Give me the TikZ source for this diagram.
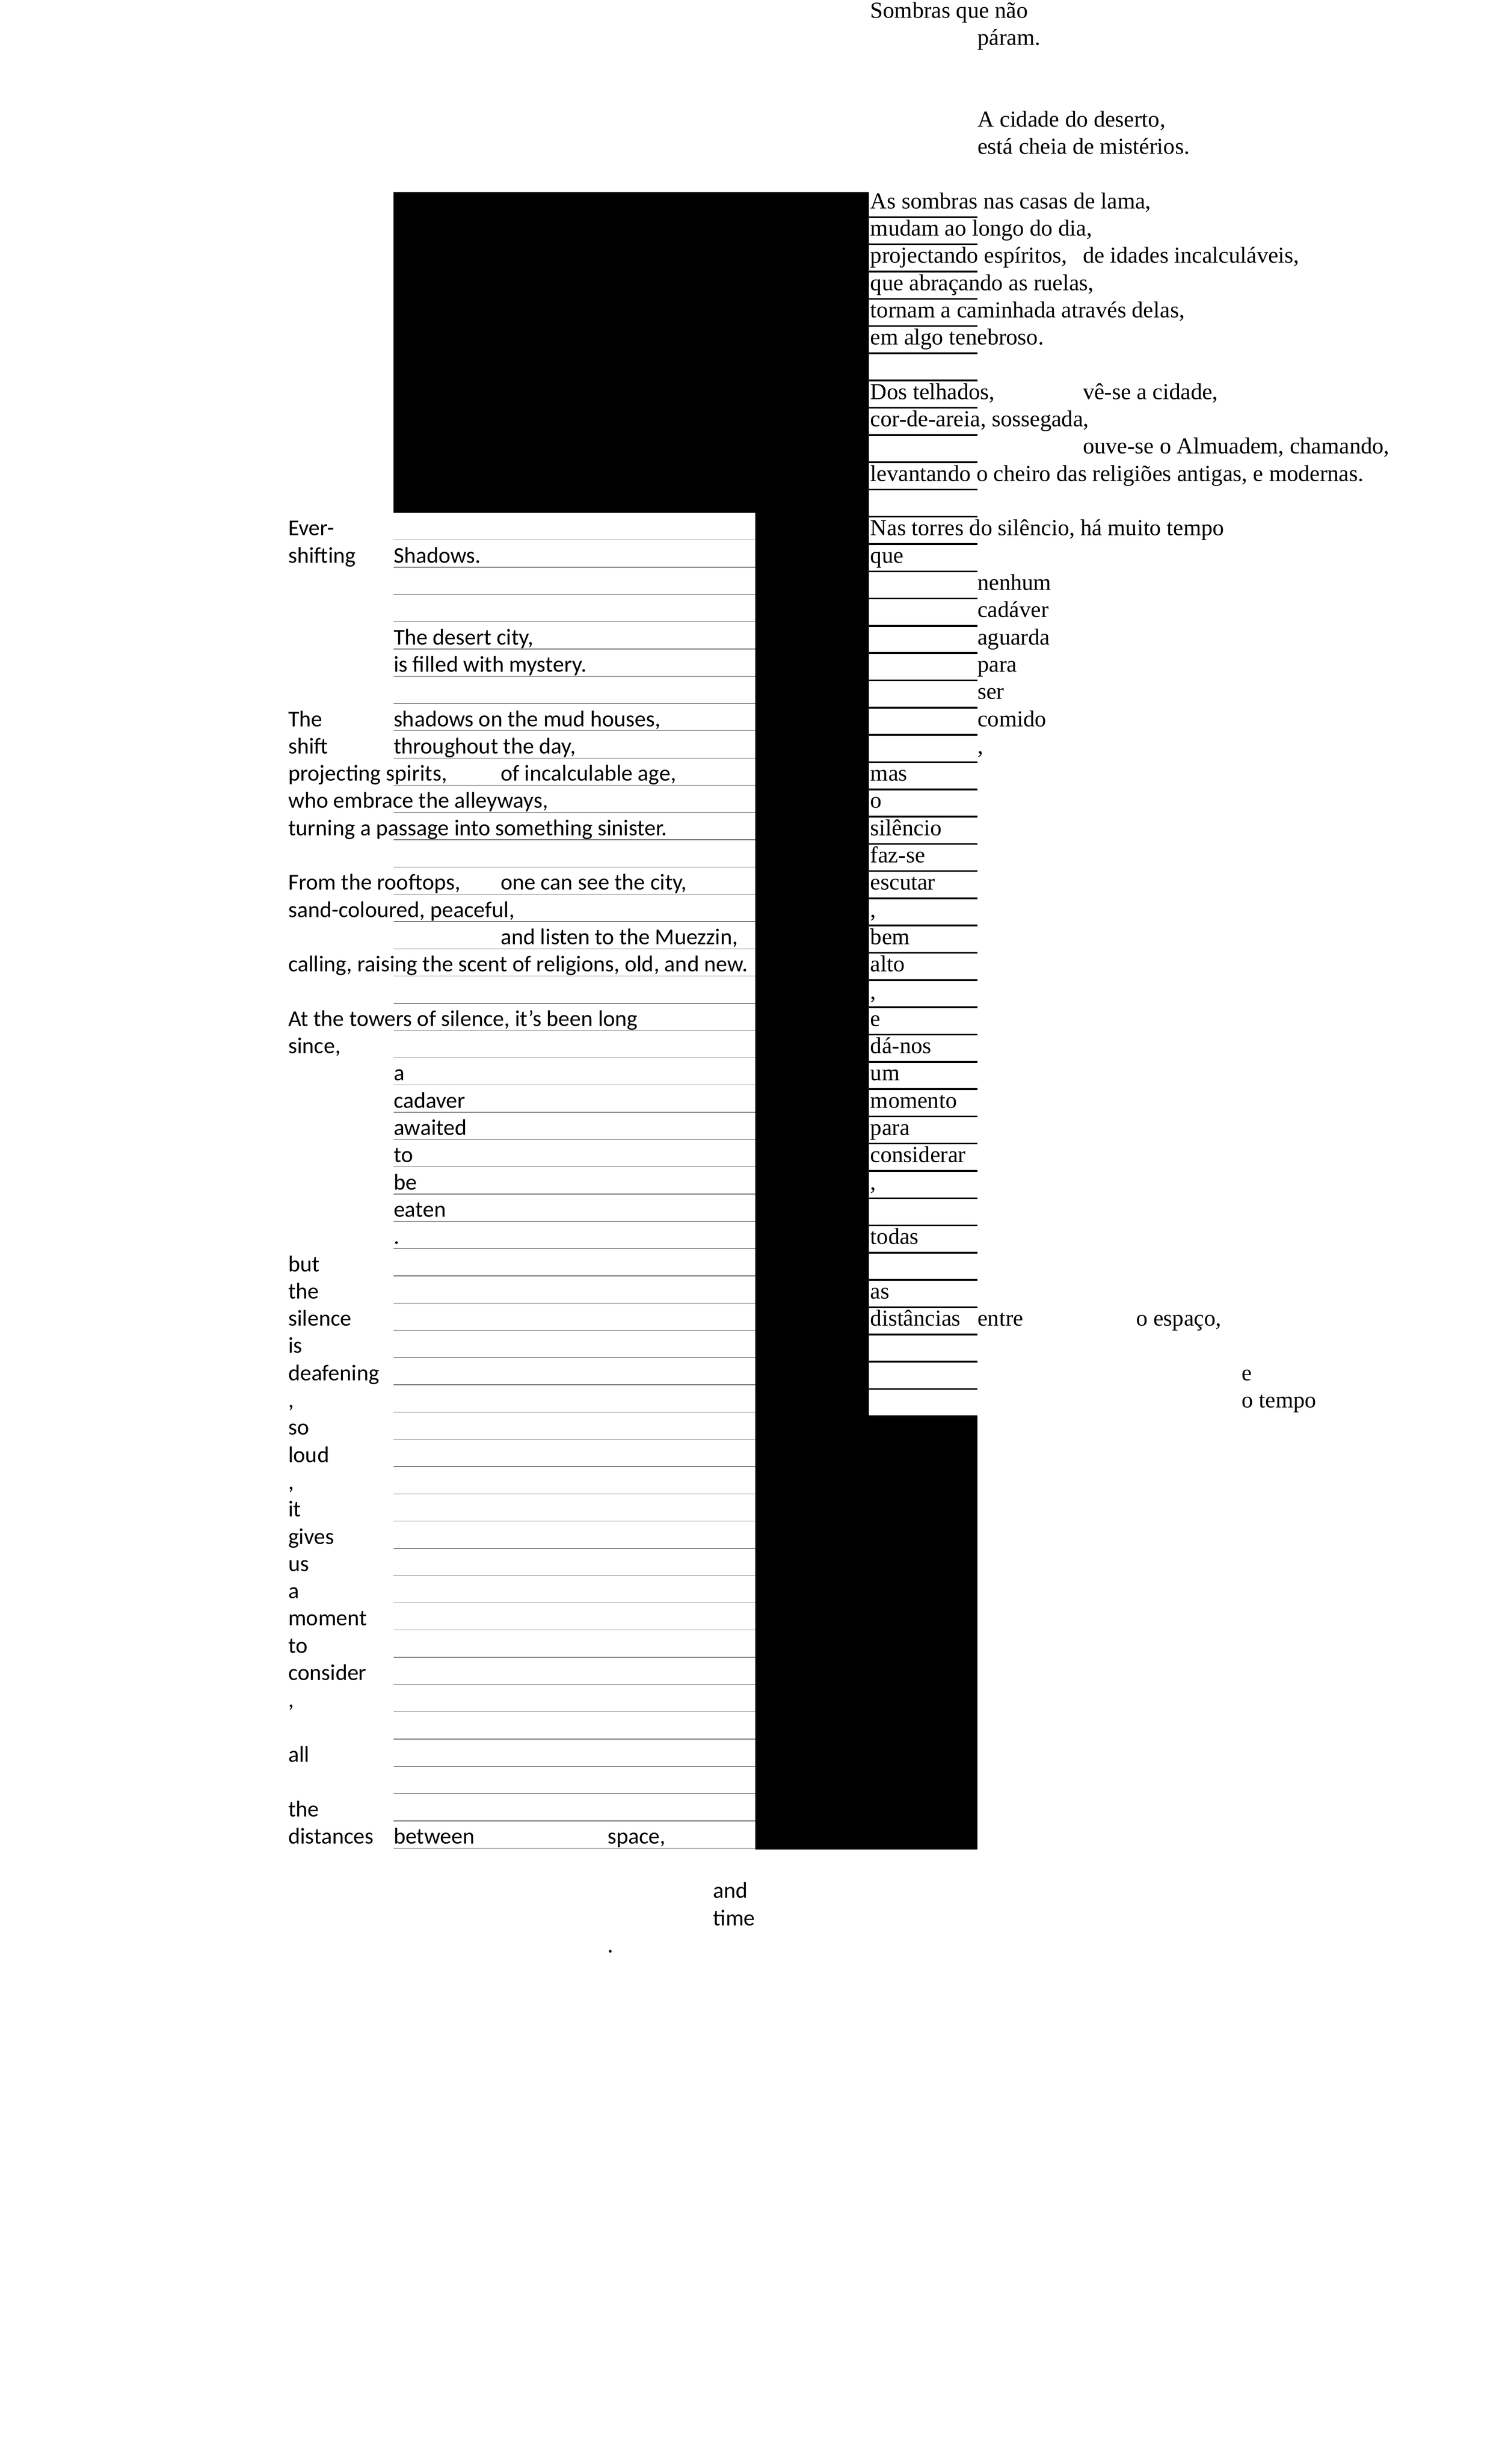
\documentclass[tikz,border=0pt]{standalone}
\usepackage{fontspec}
\setmainfont{Liberation Serif}
\newfontfamily\ensans{Carlito}

\begin{document}
\begin{tikzpicture}[x=0.1mm,y=-7.708mm,
  pt/.style={anchor=base west,inner sep=0pt,font=\fontsize{18.4}{22}\selectfont},
  en/.style={anchor=base west,inner sep=0pt,font=\ensans\fontsize{18.2}{22}\selectfont},
  rule/.style={line width=1.4pt},
  guide/.style={black!55,line width=0.5pt}]
  \useasboundingbox (0,-7.654) rectangle (4274,82.76);

  \foreach \r in {11,...,60}
    \draw[guide] (1113,\r+0.16) -- (2137,\r+0.16);
  \fill (1113,-0.61) -- (2458,-0.61) -- (2458,44.28) -- (2765,44.28)
    -- (2765,60.21) -- (2137,60.21) -- (2137,11.16) -- (1113,11.16) -- cycle;
  \foreach \r in {0,...,43}
    \draw[rule] (2458,\r+0.31) -- (2765,\r+0.31);

  % portuguese
  \node[pt] (title) at (2462,-7) {Sombras que não};
  \node[pt] (title2) at (2765,-6) {páram.};
  \node[pt] (cidade) at (2765,-3) {A cidade do deserto,};
  \node[pt] (cheia) at (2765,-2) {está cheia de mistérios.};
  \node[pt] (sombras) at (2462,0) {As sombras nas casas de lama,};
  \node[pt] (mudam) at (2462,1) {mudam ao longo do dia,};
  \node[pt] (espiritos) at (2462,2) {projectando espíritos,};
  \node[pt] (idades) at (3063,2) {de idades incalculáveis,};
  \node[pt] (ruelas) at (2462,3) {que abraçando as ruelas,};
  \node[pt] (caminhada) at (2462,4) {tornam a caminhada através delas,};
  \node[pt] (tenebroso) at (2462,5) {em algo tenebroso.};
  \node[pt] (telhados) at (2462,7) {Dos telhados,};
  \node[pt] (vese) at (3063,7) {vê-se a cidade,};
  \node[pt] (areia) at (2462,8) {cor-de-areia, sossegada,};
  \node[pt] (almuadem) at (3063,9) {ouve-se o Almuadem, chamando,};
  \node[pt] (religioes) at (2462,10) {levantando o cheiro das religiões antigas, e modernas.};
  \node[pt] (torres) at (2462,12) {Nas torres do silêncio, há muito tempo};
  \node[pt] (que) at (2462,13) {que};
  \foreach \w [count=\i from 14] in {nenhum,cadáver,aguarda,para,ser,comido,{,}}
    \node[pt] (pw\i) at (2765,\i) {\w};
  \foreach \w [count=\i from 21] in {mas,o,silêncio,faz-se,escutar,{,},bem,alto,{,},e,dá-nos,um,momento,para,considerar,{,}}
    \node[pt] (pw\i) at (2462,\i) {\w};
  \node[pt] (todas) at (2462,38) {todas};
  \node[pt] (as) at (2462,40) {as};
  \node[pt] (distancias) at (2462,41) {distâncias};
  \node[pt] (entre) at (2765,41) {entre};
  \node[pt] (espaco) at (3214,41) {o espaço,};
  \node[pt] (e) at (3513,43) {e};
  \node[pt] (tempo) at (3513,44) {o tempo};

  % english
  \node[en] (ever) at (815,12) {Ever-};
  \node[en] (shifting) at (815,13) {shifting};
  \node[en] (shadows) at (1113,13) {Shadows.};
  \node[en] (desert) at (1113,16) {The desert city,};
  \node[en] (mystery) at (1113,17) {is filled with mystery.};
  \node[en] (the) at (815,19) {The};
  \node[en] (mud) at (1113,19) {shadows on the mud houses,};
  \node[en] (shift) at (815,20) {shift};
  \node[en] (day) at (1113,20) {throughout the day,};
  \node[en] (spirits) at (815,21) {projecting spirits,};
  \node[en] (age) at (1416,21) {of incalculable age,};
  \node[en] (alleys) at (815,22) {who embrace the alleyways,};
  \node[en] (sinister) at (815,23) {turning a passage into something sinister.};
  \node[en] (rooftops) at (815,25) {From the rooftops,};
  \node[en] (see) at (1416,25) {one can see the city,};
  \node[en] (sand) at (815,26) {sand-coloured, peaceful,};
  \node[en] (muezzin) at (1416,27) {and listen to the Muezzin,};
  \node[en] (calling) at (815,28) {calling, raising the scent of religions, old, and new.};
  \node[en] (towers) at (815,30) {At the towers of silence, it’s been long};
  \node[en] (since) at (815,31) {since,};
  \foreach \w [count=\i from 32] in {a,cadaver,awaited,to,be,eaten,.}
    \node[en] (ew\i) at (1113,\i) {\w};
  \foreach \w [count=\i from 39] in {but,the,silence,is,deafening,{,},so,loud,{,},it,gives,us,a,moment,to,consider,{,}}
    \node[en] (ew\i) at (815,\i) {\w};
  \node[en] (all) at (815,57) {all};
  \node[en] (the2) at (815,59) {the};
  \node[en] (distances) at (815,60) {distances};
  \node[en] (between) at (1113,60) {between};
  \node[en] (space) at (1718,60) {space,};
  \node[en] (and) at (2017,62) {and};
  \node[en] (time) at (2017,63) {time};
  \node[en] (dot) at (1718,64) {.};
\end{tikzpicture}
\end{document}
